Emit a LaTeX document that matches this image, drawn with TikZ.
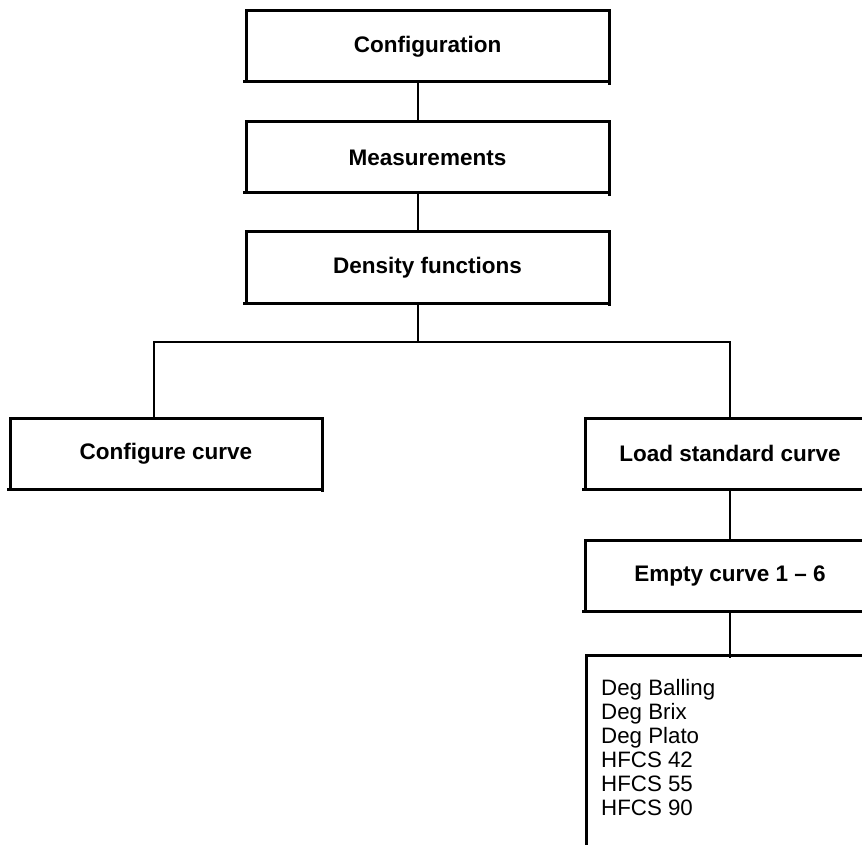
\documentclass[tikz,border=0pt]{standalone}
\usepackage{fontspec}
\setmainfont{Liberation Sans}
\begin{document}
\begin{tikzpicture}[x=1pt,y=-1pt,
  boxline/.style={line width=3pt},
  stepbox/.style={draw,boxline,outer sep=0pt,anchor=north west,
    font=\fontsize{22.5}{24}\selectfont\bfseries,align=center,minimum height=71pt},
  link/.style={line width=2.2pt}]
\useasboundingbox (0,0) rectangle (862,845);
\clip (0,0) rectangle (862,845);
\node[stepbox,minimum width=363pt] (conf) at (246,11) {Configuration};
\node[stepbox,minimum width=363pt] (meas) at (246,122) {Measurements};
\node[stepbox,minimum width=363pt] (dens) at (246,232) {Density functions};
\node[stepbox,minimum width=312pt] (cfg) at (10,418) {Configure curve};
\node[stepbox,minimum width=290pt] (load) at (585,418) {Load standard curve};
\node[stepbox,minimum width=290pt] (empty) at (585,540) {Empty curve 1 -- 6};
\draw[boxline] (586,900) -- (586,655) -- (900,655);
\node[anchor=north west,inner sep=0pt,align=left,font=\fontsize{22.3}{24}\selectfont] (list) at (601,679)
  {Deg Balling\\Deg Brix\\Deg Plato\\HFCS 42\\HFCS 55\\HFCS 90};
\coordinate (spine) at (418,0);
\coordinate (bus) at (0,342);
\coordinate (cl) at (154,0);
\coordinate (cr) at (730,0);
\coordinate (listtop) at (730,658);
\foreach \n in {conf,meas,dens,cfg} {
  \draw[boxline] ([xshift=-3pt]\n.south west) -- (\n.south west);
  \draw[boxline] (\n.south east) -- ([yshift=-3pt]\n.south east);
}
\foreach \n in {load,empty}
  \draw[boxline] ([xshift=-3pt]\n.south west) -- (\n.south west);
\draw[link] (conf.south -| spine) -- (meas.north -| spine);
\draw[link] (meas.south -| spine) -- (dens.north -| spine);
\draw[link] (dens.south -| spine) -- (bus -| spine);
\draw[link] (cfg.north -| cl) -- (bus -| cl) -- (bus -| cr) -- (load.north -| cr);
\draw[link] (load.south -| cr) -- (empty.north -| cr);
\draw[link] (empty.south -| cr) -- (listtop);
\end{tikzpicture}
\end{document}
